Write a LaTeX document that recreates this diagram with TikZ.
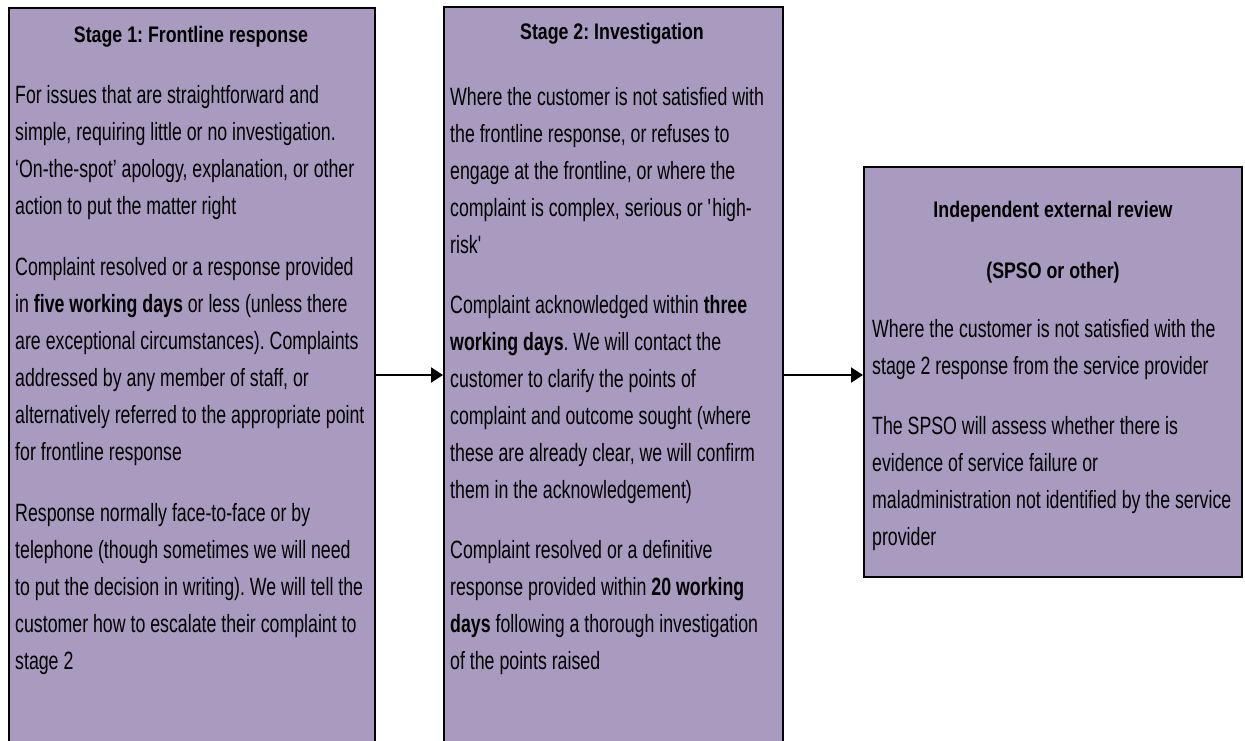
\documentclass[tikz,border=0pt]{standalone}
\usepackage{fontspec}
\newfontfamily\bodyfont[FakeStretch=0.71]{Liberation Sans}
\newfontfamily\headfont[FakeStretch=0.79]{Liberation Sans}
\usetikzlibrary{arrows.meta}
\definecolor{boxfill}{RGB}{169,154,191}
\tikzset{
  panel/.style={draw=black, line width=1.5pt, fill=boxfill, inner sep=0pt, anchor=north west},
  headtxt/.style={inner sep=0pt, anchor=base, font={\headfont\bfseries\fontsize{22.5}{30}\selectfont\frenchspacing}},
  bodytxt/.style={inner sep=0pt, anchor=north west, align=left, font={\bodyfont\fontsize{25}{37}\selectfont\frenchspacing}},
  conn/.style={line width=2pt, -{Triangle[length=12pt,width=15pt]}}
}
\begin{document}
\begin{tikzpicture}[x=1pt,y=-1pt]
\useasboundingbox (0,0) rectangle (1245,740);
\clip (0,0) rectangle (1245,740);
\node[panel, minimum width=366pt, minimum height=780pt] (b1) at (8,7) {};
\node[panel, minimum width=339pt, minimum height=780pt] (b2) at (443,6) {};
\node[panel, minimum width=378pt, minimum height=410pt] (b3) at (863,166) {};
\coordinate (ay) at (0,375);

\node[headtxt] (h1) at (191,42) {Stage 1: Frontline response};
\node[headtxt] (h2) at (612,39) {Stage 2: Investigation};
\node[headtxt] (h3) at (1053,217) {Independent external review};
\node[headtxt] (h4) at (1053,278) {(SPSO or other)};

\node[bodytxt] (t1) at (15,85) {For issues that are straightforward and\\
simple, requiring little or no investigation.\\
‘On-the-spot’ apology, explanation, or other\\
action to put the matter right\\[24pt]
Complaint resolved or a response provided\\
in \textbf{five working days} or less (unless there\\
are exceptional circumstances). Complaints\\
addressed by any member of staff, or\\
alternatively referred to the appropriate point\\
for frontline response\\[24pt]
Response normally face-to-face or by\\
telephone (though sometimes we will need\\
to put the decision in writing). We will tell the\\
customer how to escalate their complaint to\\
stage 2};

\node[bodytxt] (t2) at (450,87) {Where the customer is not satisfied with\\
the frontline response, or refuses to\\
engage at the frontline, or where the\\
complaint is complex, serious or \textquotesingle high-\\
risk\textquotesingle\\[23pt]
Complaint acknowledged within \textbf{three}\\
\textbf{working days}. We will contact the\\
customer to clarify the points of\\
complaint and outcome sought (where\\
these are already clear, we will confirm\\
them in the acknowledgement)\\[23pt]
Complaint resolved or a definitive\\
response provided within \textbf{20 working}\\
\textbf{days} following a thorough investigation\\
of the points raised};

\node[bodytxt] (t3) at (872,319) {Where the customer is not satisfied with the\\
stage 2 response from the service provider\\[23pt]
The SPSO will assess whether there is\\
evidence of service failure or\\
maladministration not identified by the service\\
provider};

\draw[conn] (b1.east |- ay) -- (b2.west |- ay);
\draw[conn] (b2.east |- ay) -- (b3.west |- ay);
\end{tikzpicture}
\end{document}
